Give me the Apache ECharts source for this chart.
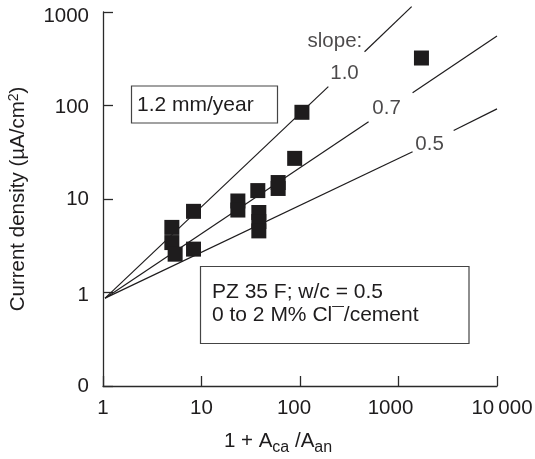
<!DOCTYPE html>
<html><head><meta charset="utf-8">
<script src="https://cdn.jsdelivr.net/npm/echarts@6/dist/echarts.min.js"></script>
<style>html,body{margin:0;padding:0;background:#fff}#c{width:535px;height:459px}</style>
</head><body><div id="c"></div>
<script>
// ---- data ----
const xTicks = [1, 10, 100, 1000, 10000];
const xTickLabels = ['1', '10', '100', '1000', '10\u2009000'];
const yTicks = [0.1, 1, 10, 100, 1000];
const yTickLabels = ['0', '1', '10', '100', '1000'];

const pointX = [5.0, 5.0, 5.4, 8.3, 8.3, 23.4, 23.4, 37.3, 38.2, 38.2, 38.2, 60, 60, 88.3, 104.6, 1710];
const pointY = [4.97, 3.42, 2.57, 7.38, 2.91, 9.52, 7.62, 12.3, 7.17, 5.74, 4.56, 15.0, 12.96, 27.2, 84.6, 322];

const slope10Seg1X = [1.05, 194];  const slope10Seg1Y = [0.87, 159];
const slope10Seg2X = [452, 1360];  const slope10Seg2Y = [376, 1140];
const slope07Seg1X = [1.05, 497];  const slope07Seg1Y = [0.87, 67];
const slope07Seg2X = [1390, 10000]; const slope07Seg2Y = [137, 555];
const slope05Seg1X = [1.05, 1390]; const slope05Seg1Y = [0.87, 32];
const slope05Seg2X = [3630, 10000]; const slope05Seg2Y = [54, 92];

const noteTexts = ['slope:', '1.0', '0.7', '0.5'];
const noteX = [226, 283, 757, 2070];
const noteY = [488, 221, 93, 38.4];

const boxText1 = '1.2 mm/year';
const boxText2 = 'PZ 35 F; w/c = 0.5\n0 to 2 M% Cl\u00AF/cement';
// ---------------------------------------

const INK = '#1e1c1d';
const FONT = '"Liberation Sans", Arial, Helvetica, sans-serif';
const FS = 20.5;
const FSB = 21;

function zip(xs, ys) { return xs.map((x, i) => [x, ys[i]]); }
function idxOf(ticks, v) {
  let best = 0, bd = Infinity;
  ticks.forEach((t, i) => { const d = Math.abs(Math.log10(t) - Math.log10(v)); if (d < bd) { bd = d; best = i; } });
  return best;
}

const segStyle = { color: INK, width: 1.2, opacity: 1 };
function seg(xs, ys) {
  return { type: 'line', data: zip(xs, ys), symbol: 'none', clip: false, silent: true,
           lineStyle: segStyle, z: 2, animation: false };
}

const chart = echarts.init(document.getElementById('c'), null, { renderer: 'canvas' });
const baseTxt = { fontFamily: FONT, fontSize: FS, color: INK };

chart.setOption({
  animation: false,
  backgroundColor: '#fff',
  grid: { left: 103, right: 38, top: 12, bottom: 73, containLabel: false, outerBoundsMode: 'none' },
  xAxis: {
    type: 'log', logBase: 10, min: 1, max: 10000,
    axisLine: { show: true, lineStyle: { color: '#2a2a2a', width: 1.3 } },
    axisTick: { show: true, inside: true, length: 10, lineStyle: { color: '#2a2a2a', width: 1.3 } },
    minorTick: { show: false },
    splitLine: { show: false },
    axisLabel: {
      margin: 12, ...baseTxt,
      formatter: v => {
        const i = idxOf(xTicks, v);
        return '{s' + i + '|' + xTickLabels[i] + '}';
      },
      rich: {
        s0: { ...baseTxt }, s1: { ...baseTxt },
        s2: { ...baseTxt, padding: [0, 12, 0, 0] },
        s3: { ...baseTxt, padding: [0, 16, 0, 0] },
        s4: { ...baseTxt, padding: [0, 0, 0, 10] }
      }
    }
  },
  yAxis: {
    type: 'log', logBase: 10, min: 0.1, max: 1000,
    axisLine: { show: true, lineStyle: { color: '#2a2a2a', width: 1.3 } },
    axisTick: { show: true, inside: true, length: 10, lineStyle: { color: '#2a2a2a', width: 1.3 } },
    minorTick: { show: false },
    splitLine: { show: false },
    axisLabel: {
      margin: 14, ...baseTxt,
      formatter: v => {
        const i = idxOf(yTicks, v);
        return '{t' + i + '|' + yTickLabels[i] + '}';
      },
      rich: {
        t0: { ...baseTxt }, t1: { ...baseTxt, padding: [5, 0, 0, 0] }, t2: { ...baseTxt },
        t3: { ...baseTxt, padding: [3, 0, 0, 0] }, t4: { ...baseTxt, padding: [9, 0, 0, 0] }
      }
    }
  },
  series: [
    seg(slope10Seg1X, slope10Seg1Y), seg(slope10Seg2X, slope10Seg2Y),
    seg(slope07Seg1X, slope07Seg1Y), seg(slope07Seg2X, slope07Seg2Y),
    seg(slope05Seg1X, slope05Seg1Y), seg(slope05Seg2X, slope05Seg2Y),
    {
      type: 'scatter', data: zip(pointX, pointY), symbol: 'rect', symbolSize: 15,
      itemStyle: { color: INK, opacity: 1 }, z: 5, silent: true
    },
    {
      type: 'scatter', symbolSize: 1, itemStyle: { color: 'rgba(0,0,0,0)' }, z: 6, silent: true,
      data: noteTexts.map((t, i) => ({ name: t, value: [noteX[i], noteY[i]] })),
      label: { show: true, position: 'inside', formatter: p => p.name, ...baseTxt }
    }
  ],
  graphic: [
    { type: 'rect', shape: { x: 131.5, y: 86, width: 146, height: 37 },
      style: { fill: '#fff', stroke: '#444', lineWidth: 1.2 }, z: 10 },
    { type: 'text', x: 137, y: 105, z: 11,
      style: { text: boxText1, font: FSB + 'px ' + FONT, fill: INK, verticalAlign: 'middle', align: 'left' } },
    { type: 'rect', shape: { x: 200.5, y: 266.5, width: 268.5, height: 77 },
      style: { fill: '#fff', stroke: '#444', lineWidth: 1.2 }, z: 10 },
    { type: 'text', x: 212, y: 303.5, z: 11,
      style: { text: boxText2, font: FSB + 'px ' + FONT, fill: INK, lineHeight: 23.5, verticalAlign: 'middle', align: 'left' } },
    { type: 'text', x: 18, y: 199, rotation: Math.PI / 2, z: 11,
      style: {
        text: '{a|Current density (µA/cm}{s|2}{a|)}', align: 'center', verticalAlign: 'middle',
        rich: {
          a: { fontFamily: FONT, fontSize: FS, fill: INK, color: INK, lineHeight: 22, verticalAlign: 'bottom' },
          s: { fontFamily: FONT, fontSize: 14, fill: INK, color: INK, lineHeight: 14, verticalAlign: 'top' }
        }
      } },
    { type: 'text', x: 278, y: 443, z: 11,
      style: {
        text: '{a|1 + A}{b|ca}{a| /A}{b|an}', align: 'center', verticalAlign: 'middle',
        rich: {
          a: { fontFamily: FONT, fontSize: FS, fill: INK, color: INK, lineHeight: 20, verticalAlign: 'top' },
          b: { fontFamily: FONT, fontSize: 16, fill: INK, color: INK, lineHeight: 25, verticalAlign: 'bottom' }
        }
      } }
  ]
});
</script>
</body></html>
